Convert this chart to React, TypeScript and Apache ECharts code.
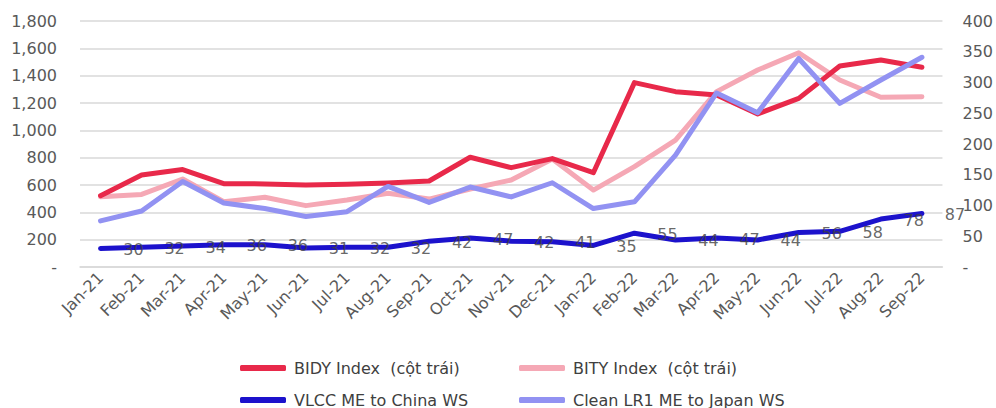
import React, { useEffect, useRef } from "react";
import * as echarts from "echarts";

const categories = ["Jan-21","Feb-21","Mar-21","Apr-21","May-21","Jun-21","Jul-21","Aug-21","Sep-21","Oct-21","Nov-21","Dec-21","Jan-22","Feb-22","Mar-22","Apr-22","May-22","Jun-22","Jul-22","Aug-22","Sep-22"];
const bidy = [522, 673, 713, 610, 608, 600, 605, 615, 629, 803, 727, 793, 690, 1349, 1283, 1259, 1120, 1234, 1471, 1515, 1461];
const bity = [514, 531, 644, 478, 510, 449, 490, 539, 497, 571, 637, 790, 563, 734, 929, 1283, 1441, 1568, 1368, 1242, 1246];
const vlcc = [30, 32, 34, 36, 36, 31, 32, 32, 42, 47, 42, 41, 35, 55, 44, 47, 44, 56, 58, 78, 87];
const cleanLr1 = [75, 91, 139, 104, 95, 82, 90, 131, 105, 130, 114, 137, 95, 106, 182, 283, 251, 339, 266, 304, 341];

const FONT = "DejaVu Sans";
const fmt = (v: number) => (v === 0 ? "-" : v.toLocaleString("en-US"));

export default function App() {
  const ref = useRef<HTMLDivElement>(null);
  useEffect(() => {
    document.body.style.margin = "0";
    if (!ref.current) return;
    const chart = echarts.init(ref.current, undefined, { renderer: "svg" });
    const lineStyle = (c: string) => ({ color: c, width: 5, cap: "round" as const, join: "round" as const });
    const legendBase = {
      orient: "vertical",
      top: 355,
      height: 60,
      itemGap: 16,
      itemWidth: 46,
      itemHeight: 6,
      icon: "roundRect",
      textStyle: { fontFamily: FONT, fontSize: 16, lineHeight: 16, color: "#404040", padding: [0, 0, 0, 3] },
    };
    chart.setOption({
      animation: false,
      textStyle: { fontFamily: FONT },
      grid: { left: 80, right: 53, top: 21, bottom: 141 },
      legend: [
        { ...legendBase, data: ["BIDY Index  (cột trái)", "VLCC ME to China WS"], left: 235 },
        { ...legendBase, data: ["BITY Index  (cột trái)", "Clean LR1 ME to Japan WS"], left: 514 },
      ],
      xAxis: {
        type: "category",
        data: categories,
        boundaryGap: true,
        axisLine: { show: true, lineStyle: { color: "#d9d9d9", width: 1.5 } },
        axisTick: { show: false },
        axisLabel: { rotate: 45, fontSize: 16, color: "#595959", fontFamily: FONT, margin: 8, interval: 0 },
      },
      yAxis: [
        {
          type: "value",
          min: 0,
          max: 1800,
          interval: 200,
          axisLine: { show: false },
          axisTick: { show: false },
          splitLine: { lineStyle: { color: "#d9d9d9", width: 1.5 } },
          axisLabel: { fontSize: 16, color: "#595959", fontFamily: FONT, margin: 23, formatter: fmt },
        },
        {
          type: "value",
          min: 0,
          max: 400,
          interval: 50,
          position: "right",
          axisLine: { show: false },
          axisTick: { show: false },
          splitLine: { show: false },
          axisLabel: { fontSize: 16, color: "#595959", fontFamily: FONT, margin: 20, formatter: fmt },
        },
      ],
      series: [
        {
          name: "BIDY Index  (cột trái)",
          type: "line",
          data: bidy,
          yAxisIndex: 0,
          symbol: "none",
          color: "#E8294A",
          lineStyle: lineStyle("#E8294A"),
          z: 4,
        },
        {
          name: "BITY Index  (cột trái)",
          type: "line",
          data: bity,
          yAxisIndex: 0,
          symbol: "none",
          color: "#F5A8B5",
          lineStyle: lineStyle("#F5A8B5"),
          z: 3,
        },
        {
          name: "VLCC ME to China WS",
          type: "line",
          data: vlcc,
          yAxisIndex: 1,
          symbol: "none",
          color: "#1C12CC",
          lineStyle: lineStyle("#1C12CC"),
          z: 5,
        },
        {
          name: "Clean LR1 ME to Japan WS",
          type: "line",
          data: cleanLr1,
          yAxisIndex: 1,
          symbol: "none",
          color: "#9292F2",
          lineStyle: lineStyle("#9292F2"),
          z: 4,
        },
        {
          name: "vlccLabels",
          type: "scatter",
          data: vlcc,
          yAxisIndex: 1,
          symbolSize: 0,
          itemStyle: { color: "transparent" },
          silent: true,
          clip: false,
          label: {
            show: true,
            position: "inside",
            offset: [33, 1],
            fontSize: 16,
            color: "#404040",
            fontFamily: FONT,
          },
          z: 6,
        },
      ],
    });
    return () => chart.dispose();
  }, []);
  return <div ref={ref} style={{ width: 996, height: 408 }} />;
}
